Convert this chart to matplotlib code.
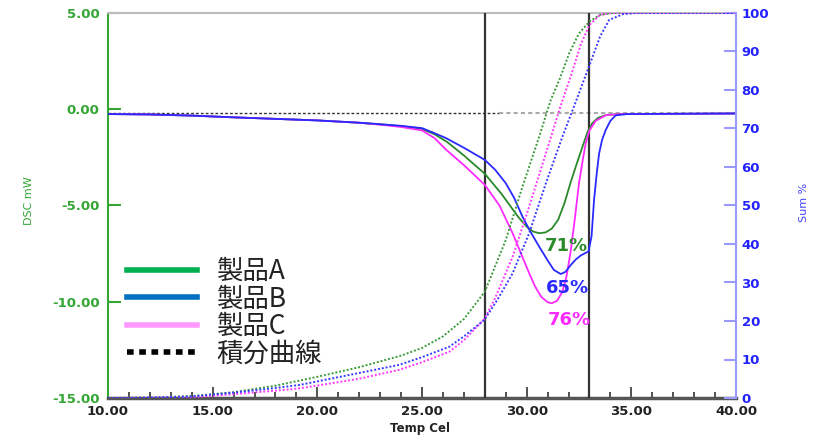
import matplotlib
matplotlib.use("Agg")
import matplotlib.pyplot as plt
from matplotlib.lines import Line2D
from matplotlib.ticker import FuncFormatter, MultipleLocator

# ---------------- data ----------------
temp_a = [10, 12, 14, 16, 18, 20, 22, 23, 24, 25, 25.6, 26.2, 27, 28, 28.8, 29.6, 30.0, 30.3,
          30.6, 30.9, 31.2, 31.5, 31.8, 32.1, 32.4, 32.67, 32.9, 33.13, 33.4, 33.8, 34.5, 40]
dsc_a = [-0.25, -0.27, -0.33, -0.42, -0.5, -0.58, -0.7, -0.78, -0.88, -1.02, -1.3, -1.7, -2.4,
         -3.35, -4.4, -5.6, -6.1, -6.35, -6.44, -6.4, -6.2, -5.75, -4.9, -3.8, -2.8, -1.94,
         -1.2, -0.73, -0.45, -0.3, -0.25, -0.22]

temp_b = [10, 12, 14, 16, 18, 20, 22, 23, 24, 25, 25.5, 26.15, 27, 28, 28.5, 29.0, 29.4, 29.8,
          30.2, 30.6, 31.0, 31.3, 31.63, 31.85, 32.1, 32.35, 32.58, 32.8, 32.95, 33.1, 33.22,
          33.35, 33.46, 33.6, 33.78, 34.0, 34.25, 34.8, 40]
dsc_b = [-0.25, -0.27, -0.33, -0.42, -0.5, -0.58, -0.7, -0.78, -0.86, -0.98, -1.2, -1.5, -2.0,
         -2.63, -3.15, -3.84, -4.6, -5.58, -6.4, -7.14, -7.85, -8.35, -8.56, -8.45, -8.1, -7.8,
         -7.6, -7.47, -7.4, -6.6, -4.7, -3.3, -2.3, -1.6, -1.07, -0.6, -0.32, -0.25, -0.22]

temp_c = [10, 12, 14, 16, 18, 20, 22, 23, 24, 25, 25.6, 26.15, 27, 28, 28.7, 29.33, 30.12,
          30.4, 30.7, 31.0, 31.2, 31.45, 31.7, 31.9, 32.1, 32.3, 32.5, 32.7, 32.82, 33.0, 33.3,
          33.8, 34.5, 40]
dsc_c = [-0.25, -0.27, -0.33, -0.42, -0.5, -0.58, -0.7, -0.8, -0.92, -1.1, -1.5, -2.1, -2.9,
         -3.93, -5.0, -6.44, -8.52, -9.2, -9.75, -10.02, -10.08, -9.95, -9.5, -8.7, -7.4, -5.7,
         -3.84, -2.5, -1.77, -1.1, -0.6, -0.3, -0.25, -0.22]

sum_temp_a = [10, 12, 14, 16, 18, 20, 22, 24, 25, 26, 27, 28, 29, 29.8, 30.6, 31.15, 31.55,
              32.03, 32.5, 33.0, 33.5, 34.1, 40]
sum_a = [0, 0.1, 0.5, 1.5, 3.2, 5.5, 8.0, 11.0, 13.0, 16.0, 20.5, 27.6, 41.0, 54.9, 67.9, 77.4,
         82.5, 89.5, 94.7, 97.8, 99.5, 100, 100]

sum_temp_b = [10, 12, 14, 16, 18, 19.16, 22, 23.9, 25, 26.3, 27, 27.98, 28.6, 29.33, 30.12,
              30.92, 31.71, 32.35, 32.97, 33.5, 33.94, 34.6, 35.2, 40]
sum_b = [0, 0.1, 0.4, 1.4, 2.6, 3.4, 6.5, 8.6, 10.6, 13.3, 16.0, 20.3, 25.5, 32.4, 42.8, 55.8,
         67.9, 77.0, 86.0, 93.8, 98.2, 99.7, 100, 100]

sum_temp_c = [10, 12, 14, 16, 18, 19.16, 22, 23.9, 25, 26.3, 27, 27.98, 28.5, 29.33, 30.12,
              30.92, 31.6, 32.1, 32.6, 33.0, 33.5, 34.0, 40]
sum_c = [0, 0.05, 0.2, 1.0, 1.9, 2.5, 5.0, 7.3, 9.3, 12.0, 15.0, 20.5, 26.0, 36.7, 49.7, 63.6,
         75.5, 83.5, 92.0, 96.9, 99.5, 100, 100]

baseline_dsc = -0.18
marker_temps = [28, 33]

labels = ["製品A", "製品B", "製品C", "積分曲線"]
pct_labels = ["71%", "65%", "76%"]
pct_pos_temp = [31.9, 31.95, 32.05]
pct_pos_dsc = [-7.1, -9.28, -10.94]

x_ticks = [10, 15, 20, 25, 30, 35, 40]
dsc_ticks = [5, 0, -5, -10, -15]
sum_ticks = [0, 10, 20, 30, 40, 50, 60, 70, 80, 90, 100]

# ---------------- styles ----------------
c_a, c_b, c_c = "#2a8a2a", "#2a2aff", "#ff2aff"
c_a_dot, c_b_dot, c_c_dot = "#3a9c3a", "#3a3aff", "#ff3aff"
leg_colors = ["#00b050", "#0070c0", "#ff99ff"]
green_axis = "#33a633"
blue_axis = "#9999ff"

plt.rcParams['font.family'] = ['DejaVu Sans']

fig = plt.figure(figsize=(8.36, 4.4), dpi=100)
ax = fig.add_axes([108 / 836, 1 - 398 / 440, (736 - 108) / 836, (398 - 13) / 440])
ax2 = ax.twinx()

ax.set_xlim(10, 40)
ax.set_ylim(-15, 5)
ax2.set_ylim(0, 100)

# baseline & vertical markers
ax.plot([10, 28.7], [baseline_dsc, baseline_dsc], color="#333333", lw=1.0, ls=(0, (2, 1.5)), zorder=2)
ax.plot([28.7, 40], [baseline_dsc, baseline_dsc], color="#aaaaaa", lw=1.5, ls=(0, (2, 1.5)), zorder=2)
for t in marker_temps:
    ax.axvline(t, color="#333333", lw=1.6, zorder=3)

# DSC curves
ax.plot(temp_a, dsc_a, color=c_a, lw=1.3, zorder=4)
ax.plot(temp_c, dsc_c, color=c_c, lw=1.3, zorder=4)
ax.plot(temp_b, dsc_b, color=c_b, lw=1.3, zorder=4)

# Sum curves (dotted)
ax2.plot(sum_temp_a, sum_a, color=c_a_dot, lw=1.4, ls=(0, (1, 1)))
ax2.plot(sum_temp_c, sum_c, color=c_c_dot, lw=1.4, ls=(0, (1, 1)))
ax2.plot(sum_temp_b, sum_b, color=c_b_dot, lw=1.4, ls=(0, (1, 1)))

# percentage annotations
for lab, tx, ty, col in zip(pct_labels, pct_pos_temp, pct_pos_dsc, [c_a, c_b, c_c]):
    ax.text(tx, ty, lab, color=col, fontsize=13, fontweight="bold", ha="center", va="center",
            zorder=6)

# ---------------- axes styling ----------------
ax.spines["left"].set_color(green_axis)
ax.spines["left"].set_linewidth(1.5)
ax.spines["bottom"].set_color("#555555")
ax.spines["bottom"].set_linewidth(2.5)
ax.spines["top"].set_color("#bbbbbb")
ax.spines["top"].set_linewidth(1.5)
ax.spines["right"].set_visible(False)
ax2.spines["right"].set_color(blue_axis)
ax2.spines["right"].set_linewidth(1.5)
for s in ["left", "top", "bottom"]:
    ax2.spines[s].set_visible(False)

ax.set_xticks(x_ticks)
ax.xaxis.set_minor_locator(MultipleLocator(1))
ax.xaxis.set_major_formatter(FuncFormatter(lambda v, p: f"{v:.2f}"))
ax.tick_params(axis="x", which="major", direction="in", length=8, width=1.2, color="#333333",
               pad=5, labelsize=9.5, labelcolor="#222222")
ax.tick_params(axis="x", which="minor", direction="in", length=4, width=1.2, color="#333333")
for lab in ax.get_xticklabels():
    lab.set_fontweight("bold")

ax.set_yticks(dsc_ticks)
ax.yaxis.set_major_formatter(FuncFormatter(lambda v, p: f"{v:.2f}"))
ax.tick_params(axis="y", direction="in", length=9, width=1.5, color=green_axis, pad=6,
               labelsize=9.5, labelcolor=green_axis)
for lab in ax.get_yticklabels():
    lab.set_fontweight("bold")

ax2.set_yticks(sum_ticks)
ax2.tick_params(axis="y", direction="in", length=9, width=1.5, color=blue_axis, pad=4,
                labelsize=9.5, labelcolor="#2222ff")
for lab in ax2.get_yticklabels():
    lab.set_fontweight("bold")

fig.text(29 / 836, 1 - 201 / 440, "DSC mW", rotation=90, color=green_axis, fontsize=8,
         ha="center", va="center")
fig.text(804 / 836, 1 - 202 / 440, "Sum %", rotation=90, color="#4444ff", fontsize=8,
         ha="center", va="center")
fig.text(420 / 836, 1 - 428 / 440, "Temp Cel", color="#222222", fontsize=8.5,
         fontweight="bold", ha="center", va="center")

# ---------------- legend ----------------
handles = [Line2D([], [], color=leg_colors[0], lw=4),
           Line2D([], [], color=leg_colors[1], lw=4),
           Line2D([], [], color=leg_colors[2], lw=4),
           Line2D([], [], color="black", lw=4, ls=(0, (1.2, 1)))]
leg = ax2.legend(handles, labels, loc="upper left", bbox_to_anchor=(127 / 836, 1 - 258 / 440),
                 bbox_transform=fig.transFigure, frameon=False,
                 prop={"family": ["Noto Sans CJK JP", "DejaVu Sans"], "size": 19},
                 handlelength=2.65, handletextpad=0.75, labelspacing=0.02, borderpad=0,
                 borderaxespad=0)
for t in leg.get_texts():
    t.set_color("#222222")

fig.savefig("out.png", dpi=100)
